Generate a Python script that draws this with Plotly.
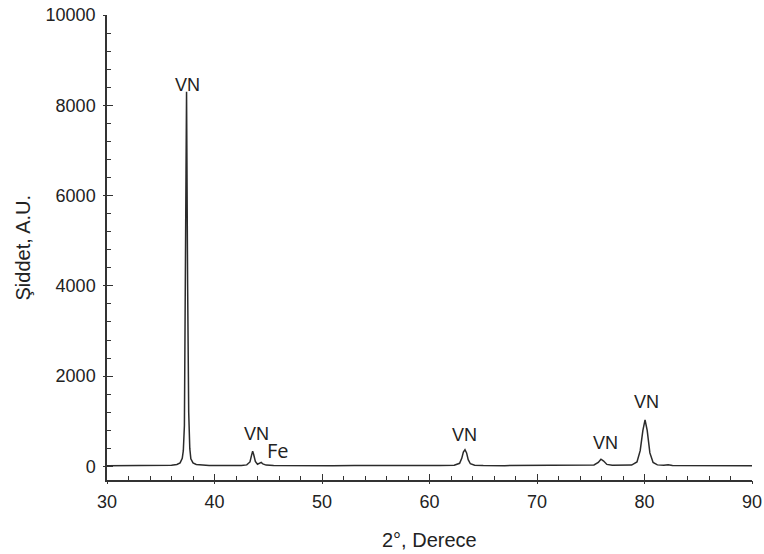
import plotly.graph_objects as go

two_theta = [30.0, 31.0, 32.0, 33.0, 34.0, 35.0, 35.5, 36.0, 36.5, 36.8, 37.0, 37.1, 37.2, 37.3, 37.35,
             37.4, 37.45, 37.5, 37.6, 37.7, 37.8, 38.0, 38.3, 38.8, 39.5, 40.5, 41.5, 42.5, 43.0, 43.3,
             43.45, 43.55, 43.65, 43.8, 44.0, 44.2, 44.35, 44.5, 44.8, 45.5, 47.0, 49.0, 51.0, 53.0,
             55.0, 57.0, 59.0, 61.0, 62.3, 62.8, 63.0, 63.15, 63.3, 63.45, 63.6, 63.8, 64.2, 65.0, 67.0,
             69.0, 71.0, 73.0, 74.5, 75.3, 75.7, 75.95, 76.2, 76.5, 77.0, 78.0, 78.8, 79.3, 79.6, 79.85,
             80.05, 80.25, 80.5, 80.8, 81.2, 81.8, 82.2, 82.6, 84.0, 86.0, 88.0, 90.0]
intensity = [15, 18, 14, 20, 16, 22, 18, 28, 45, 80, 180, 350, 900, 3500, 6500,
             8300, 7000, 4000, 1200, 400, 170, 80, 45, 30, 22, 20, 18, 22, 35, 100,
             250, 340, 260, 110, 50, 70, 90, 55, 30, 22, 18, 20, 18, 20,
             18, 20, 19, 20, 28, 70, 180, 320, 370, 300, 150, 60, 28, 20, 18,
             20, 18, 20, 22, 35, 90, 160, 120, 45, 25, 22, 30, 100, 350, 800,
             1030, 800, 300, 90, 35, 25, 40, 22, 18, 17, 16, 15]

label_text = ["VN", "VN", "Fe", "VN", "VN", "VN"]
label_x = [37.5, 43.86, 45.9, 63.3, 76.4, 80.2]
label_y = [8440, 720, 343, 697, 520, 1427]

x_major = [30, 40, 50, 60, 70, 80, 90]
x_major_text = ["30", "40", "50", "60", "70", "80", "90"]
y_major = [0, 2000, 4000, 6000, 8000, 10000]
y_major_text = ["0", "2000", "4000", "6000", "8000", "10000"]

x_title = "2°, Derece"
y_title = "Şiddet, A.U."

AX = "#333333"
FONT = "Liberation Sans, Arial, sans-serif"

fig = go.Figure()
fig.add_trace(go.Scatter(x=two_theta, y=intensity, mode="lines",
                         line=dict(color="#2b2b2b", width=1.5), hoverinfo="skip",
                         showlegend=False))
# invisible trace to activate overlay axes (for crossing major ticks)
fig.add_trace(go.Scatter(x=[30], y=[0], xaxis="x2", yaxis="y2", mode="markers",
                         marker=dict(opacity=0), showlegend=False, hoverinfo="skip"))

for t, xx, yy in zip(label_text, label_x, label_y):
    fam = "Open Sans, sans-serif" if t == "Fe" else FONT
    sz = 20 if t == "Fe" else 18
    fig.add_annotation(x=xx, y=yy, text=t, showarrow=False,
                       font=dict(family=fam, size=sz, color="#222222"))

fig.add_annotation(xref="paper", yref="paper", x=0.5, y=0, yshift=-60, text=x_title,
                   showarrow=False, xanchor="center", yanchor="middle",
                   font=dict(family=FONT, size=20, color="#222222"))
fig.add_annotation(xref="paper", yref="paper", x=0, y=0.5, xshift=-85, text=y_title,
                   textangle=-90, showarrow=False, xanchor="center", yanchor="middle",
                   font=dict(family=FONT, size=20, color="#222222"))

common_x = dict(range=[30, 90], showgrid=False, zeroline=False, linecolor=AX, linewidth=1.5,
                automargin=False)
common_y = dict(range=[-300, 10000], showgrid=False, zeroline=False, linecolor=AX, linewidth=1.5,
                automargin=False)

fig.update_layout(
    width=764, height=554,
    margin=dict(l=107, r=12, t=15, b=74, autoexpand=False),
    plot_bgcolor="white", paper_bgcolor="white",
    font=dict(family=FONT, size=18, color="#222222"),
    xaxis=dict(**common_x, showline=True, ticks="inside", ticklen=6, tickwidth=1.3, tickcolor=AX,
               tickvals=x_major, ticktext=x_major_text, ticklabelstandoff=5,
               ticklabeloverflow="allow",
               minor=dict(dtick=2, ticks="inside", ticklen=4, tickwidth=1.1, tickcolor=AX)),
    yaxis=dict(**common_y, showline=True, ticks="inside", ticklen=6, tickwidth=1.3, tickcolor=AX,
               tickvals=y_major, ticktext=y_major_text, ticklabelstandoff=6,
               ticklabeloverflow="allow",
               minor=dict(dtick=400, tick0=0, ticks="inside", ticklen=4, tickwidth=1.1, tickcolor=AX)),
    xaxis2=dict(**common_x, overlaying="x", anchor="y2", side="bottom", showline=False,
                ticks="outside", ticklen=3, tickwidth=1.3, tickcolor=AX, tickvals=x_major,
                showticklabels=False),
    yaxis2=dict(**common_y, overlaying="y", anchor="x2", side="left", showline=False,
                ticks="outside", ticklen=3, tickwidth=1.3, tickcolor=AX, tickvals=y_major,
                showticklabels=False),
)

fig.write_html("out.html", config={"displayModeBar": False},
               post_script="document.body.style.margin='0';document.body.style.overflow='hidden';")
